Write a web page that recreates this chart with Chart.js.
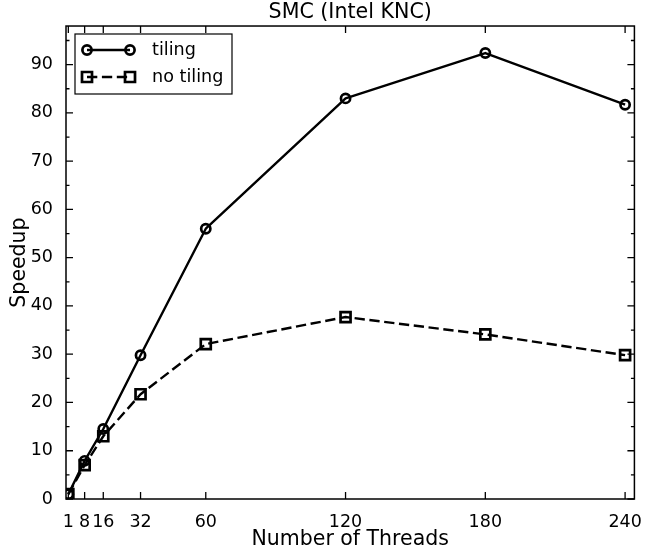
<!DOCTYPE html>
<html><head><meta charset="utf-8">
<script src="https://cdn.jsdelivr.net/npm/chart.js@4.4.1/dist/chart.umd.min.js"></script>
<style>html,body{margin:0;padding:0;background:#fff;}#wrap{width:647px;height:555px;}</style>
</head><body><div id="wrap"><canvas id="c" width="647" height="555"></canvas></div>
<script>
const threads = [1, 8, 16, 32, 60, 120, 180, 240];
const tiling = [1, 7.9, 14.5, 29.8, 56, 83, 92.4, 81.7];
const noTiling = [1, 7.0, 13.0, 21.7, 32.1, 37.7, 34.1, 29.8];
const xTicks = [1, 8, 16, 32, 60, 120, 180, 240];
const yTicks = [0, 10, 20, 30, 40, 50, 60, 70, 80, 90];
const yMinorTicks = [5, 15, 25, 35, 45, 55, 65, 75, 85, 95];
const seriesNames = ['tiling', 'no tiling'];

const FONT = '"DejaVu Sans", sans-serif';
const DASH = [10.3, 4.6];

const framePlugin = {
  id: 'frame',
  afterDatasetsDraw(chart) {
    const ctx = chart.ctx;
    const a = chart.chartArea;
    const xs = chart.scales.x, ys = chart.scales.y;
    ctx.save();
    ctx.strokeStyle = '#000';
    ctx.lineWidth = 1.5;
    ctx.setLineDash([]);
    ctx.strokeRect(a.left, a.top, a.right - a.left, a.bottom - a.top);
    ctx.lineWidth = 1.3;
    ctx.beginPath();
    const maj = 7, mn = 3.5;
    xTicks.forEach(v => {
      const p = xs.getPixelForValue(v);
      ctx.moveTo(p, a.bottom); ctx.lineTo(p, a.bottom - maj);
      ctx.moveTo(p, a.top); ctx.lineTo(p, a.top + maj);
    });
    yTicks.forEach(v => {
      const p = ys.getPixelForValue(v);
      ctx.moveTo(a.left, p); ctx.lineTo(a.left + maj, p);
      ctx.moveTo(a.right, p); ctx.lineTo(a.right - maj, p);
    });
    yMinorTicks.forEach(v => {
      const p = ys.getPixelForValue(v);
      ctx.moveTo(a.left, p); ctx.lineTo(a.left + mn, p);
      ctx.moveTo(a.right, p); ctx.lineTo(a.right - mn, p);
    });
    ctx.stroke();

    // legend
    const lx = 75, ly = 34, lw = 157, lh = 60;
    ctx.fillStyle = '#fff';
    ctx.fillRect(lx, ly, lw, lh);
    ctx.lineWidth = 1.2;
    ctx.strokeRect(lx, ly, lw, lh);
    const rows = [50, 77];
    const x1 = 87, x2 = 130;
    chart.data.datasets.forEach((ds, i) => {
      const y = rows[i];
      ctx.lineWidth = 2.4;
      ctx.setLineDash(i === 1 ? DASH : []);
      ctx.beginPath(); ctx.moveTo(x1, y); ctx.lineTo(x2, y); ctx.stroke();
      ctx.setLineDash([]);
      ctx.lineWidth = 2.7;
      [x1, x2].forEach(x => {
        ctx.beginPath();
        if (i === 0) { ctx.arc(x, y, 4.6, 0, Math.PI * 2); }
        else { ctx.rect(x - 5, y - 5, 10, 10); }
        ctx.stroke();
      });
      ctx.fillStyle = '#000';
      ctx.font = '17.6px ' + FONT;
      ctx.textBaseline = 'middle';
      ctx.textAlign = 'left';
      ctx.fillText(ds.label, 152, y);
    });
    ctx.restore();
  }
};

new Chart(document.getElementById('c'), {
  type: 'line',
  data: {
    datasets: [
      {
        label: seriesNames[0],
        data: threads.map((t, i) => ({ x: t, y: tiling[i] })),
        borderColor: '#000', borderWidth: 2.4, borderJoinStyle: 'round',
        pointStyle: 'circle', pointRadius: 4.6, pointBorderWidth: 2.7,
        pointBackgroundColor: 'rgba(0,0,0,0)', pointBorderColor: '#000',
        tension: 0, fill: false
      },
      {
        label: seriesNames[1],
        data: threads.map((t, i) => ({ x: t, y: noTiling[i] })),
        borderColor: '#000', borderWidth: 2.4, borderDash: DASH, borderJoinStyle: 'round',
        pointStyle: 'rect', pointRadius: 7.07, pointBorderWidth: 2.7,
        pointBackgroundColor: 'rgba(0,0,0,0)', pointBorderColor: '#000',
        tension: 0, fill: false
      }
    ]
  },
  options: {
    responsive: false,
    animation: false,
    devicePixelRatio: 1,
    layout: { padding: { left: 0, right: 10, top: 0, bottom: 0 } },
    plugins: {
      legend: { display: false },
      tooltip: { enabled: false },
      title: {
        display: true, text: 'SMC (Intel KNC)', fullSize: false,
        color: '#000', font: { family: FONT, size: 20.6, weight: 'normal', lineHeight: 1.2 },
        padding: { top: 0, bottom: 1.3 }
      }
    },
    scales: {
      x: {
        type: 'linear', min: 0, max: 244,
        grid: { display: false }, border: { display: false },
        afterBuildTicks: s => { s.ticks = xTicks.map(v => ({ value: v })); },
        afterFit: s => { s.height = 56; },
        ticks: {
          autoSkip: false, maxRotation: 0, minRotation: 0, padding: 5,
          color: '#000', font: { family: FONT, size: 17.5 },
          callback: v => String(v)
        },
        title: {
          display: true, text: 'Number of Threads', color: '#000',
          font: { family: FONT, size: 20.5, lineHeight: 1.2 },
          padding: { top: 0, bottom: 3.1 }
        }
      },
      y: {
        type: 'linear', min: 0, max: 98,
        grid: { display: false }, border: { display: false },
        afterBuildTicks: s => { s.ticks = yTicks.map(v => ({ value: v })); },
        afterFit: s => { s.width = 66; },
        ticks: {
          padding: 5, color: '#000', font: { family: FONT, size: 17.5 },
          callback: v => String(v)
        },
        title: {
          display: true, text: 'Speedup', color: '#000',
          font: { family: FONT, size: 20.5, lineHeight: 1.2 },
          padding: { top: 7, bottom: 0 }
        }
      }
    }
  },
  plugins: [framePlugin]
});
</script>
</body></html>
